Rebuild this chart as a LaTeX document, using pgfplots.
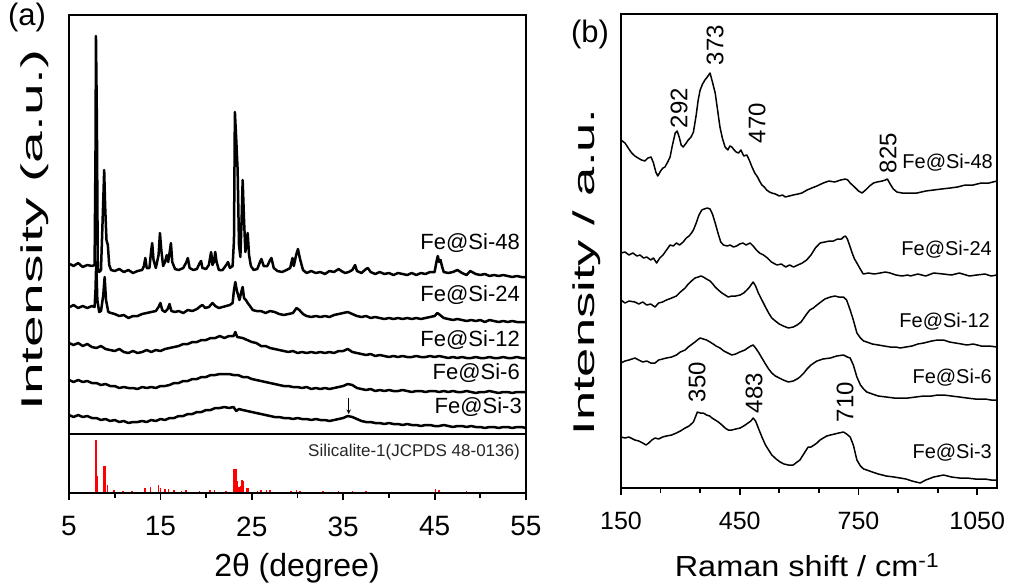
\documentclass[border=0pt]{standalone}
\usepackage{fontspec}
\setmainfont{Liberation Sans}
\usepackage{pgfplots}
\pgfplotsset{compat=1.18}
\usepackage{graphicx}
\begin{document}
\begin{tikzpicture}
\path[use as bounding box] (0pt,0pt) rectangle (1011pt,-585pt);
% ---------------- (a) main XRD ----------------
\begin{axis}[at={(69pt,-434pt)}, anchor=south west, scale only axis,
  width=457pt, height=419pt, xmin=5, xmax=55, ymin=15, ymax=434, y dir=reverse,
  xtick=\empty, ytick=\empty, axis line style={line width=1.8pt},
  every axis plot post/.append style={black, line width=2.5pt, line join=round, mark=none}]
% Fe@Si-48
\addplot coordinates {(5.1,264)(5.5,266)(6.0,263)(6.5,267)(7.0,265)(7.5,266)(7.8,265)(7.9,150)(7.95,36)(8.05,120)(8.15,268)(8.3,272)(8.5,270)(8.75,200)(8.85,170)(8.95,205)(9.1,240)(9.25,245)(9.4,265)(9.6,270)(10.0,271)(10.5,269)(11.0,272)(11.5,270)(12.0,273)(12.5,271)(13.0,270)(13.2,266)(13.35,258)(13.5,268)(13.8,268)(14.0,250)(14.1,243)(14.25,260)(14.5,268)(14.8,255)(14.95,233)(15.1,250)(15.3,266)(15.5,262)(15.7,255)(15.85,262)(16.05,250)(16.15,243)(16.3,262)(16.6,269)(17.0,270)(17.5,268)(17.85,262)(18.0,258)(18.2,268)(18.6,270)(19.0,269)(19.3,263)(19.45,261)(19.6,268)(20.0,269)(20.3,265)(20.55,252)(20.7,265)(20.85,262)(21.0,252)(21.15,262)(21.4,270)(21.8,270)(22.2,265)(22.4,262)(22.6,268)(22.9,266)(23.05,240)(23.15,112)(23.3,140)(23.45,170)(23.6,245)(23.75,257)(23.9,215)(24.0,180)(24.15,220)(24.3,252)(24.45,240)(24.55,233)(24.7,255)(24.9,266)(25.2,270)(25.6,269)(25.9,262)(26.05,259)(26.3,266)(26.7,266)(27.0,260)(27.15,258)(27.4,268)(27.8,271)(28.3,272)(28.8,270)(29.2,268)(29.45,258)(29.6,266)(29.85,255)(30.05,249)(30.25,258)(30.6,270)(31.0,273)(31.5,271)(32.0,273)(32.5,272)(33.0,274)(33.5,271)(34.0,272)(34.5,269)(34.8,271)(35.2,273)(35.6,272)(36.0,270)(36.3,265)(36.5,271)(37.0,273)(37.5,269)(37.7,268)(38.0,272)(38.5,274)(39.0,272)(39.5,274)(40.0,273)(40.5,275)(41.0,273)(41.5,274)(42.0,275)(42.5,273)(43.0,275)(43.5,273)(44.0,274)(44.5,272)(45.0,272)(45.2,262)(45.35,256)(45.5,262)(45.65,260)(45.8,266)(46.0,272)(46.5,273)(47.0,272)(47.5,270)(48.0,273)(48.5,275)(48.9,271)(49.5,274)(50.0,275)(50.5,274)(51.0,276)(51.5,275)(52.0,276)(52.5,275)(53.0,276)(53.5,277)(54.0,276)(54.5,277)(55.0,277)};
% Fe@Si-24
\addplot coordinates {(5.1,307)(5.5,305)(6.0,308)(6.5,306)(7.0,308)(7.5,306)(7.8,307)(7.9,290)(7.98,262)(8.1,300)(8.3,312)(8.5,311)(8.75,295)(8.9,277)(9.05,300)(9.3,312)(9.6,313)(10.0,314)(10.5,316)(11.0,315)(11.5,318)(12.0,316)(12.5,316)(13.0,314)(13.5,313)(14.0,312)(14.5,311)(14.8,307)(15.0,303)(15.2,310)(15.5,312)(15.8,309)(16.0,304)(16.2,311)(16.6,312)(17.0,311)(17.5,313)(18.0,310)(18.5,311)(19.0,309)(19.4,306)(19.6,305)(19.9,308)(20.3,307)(20.7,303)(21.0,306)(21.4,308)(21.8,307)(22.2,306)(22.6,305)(22.9,303)(23.05,290)(23.2,282)(23.35,290)(23.5,295)(23.65,300)(23.85,292)(24.0,287)(24.15,298)(24.35,300)(24.55,303)(24.8,306)(25.1,310)(25.5,311)(26.0,311)(26.5,313)(27.0,311)(27.5,312)(28.0,314)(28.5,315)(29.0,314)(29.5,313)(29.9,308)(30.2,310)(30.6,314)(31.0,316)(31.5,317)(32.0,316)(32.5,317)(33.0,316)(33.5,317)(34.0,315)(34.5,314)(35.0,313)(35.5,312)(36.0,314)(36.5,316)(37.0,317)(37.5,316)(38.0,318)(38.5,317)(39.0,318)(39.5,319)(40.0,318)(40.5,319)(41.0,318)(41.5,319)(42.0,318)(42.5,319)(43.0,318)(43.5,319)(44.0,318)(44.5,317)(45.0,316)(45.3,313)(45.6,315)(46.0,318)(46.5,319)(47.0,320)(47.5,319)(48.0,320)(48.5,321)(49.0,320)(49.5,321)(50.0,320)(50.5,322)(51.0,320)(51.5,321)(52.0,322)(52.5,321)(53.0,322)(53.5,321)(54.0,322)(54.5,322)(55.0,322)};
% Fe@Si-12
\addplot coordinates {(5,343)(5.5,345)(6,343)(6.5,346)(7,344)(7.5,347)(8,348)(8.5,346)(9,349)(9.5,350)(10,351)(10.5,349)(11,352)(11.5,353)(12,351)(12.5,353)(13,352)(13.5,350)(14,352)(14.5,350)(15,351)(15.5,349)(16,348)(16.5,347)(17,346)(17.5,344)(18,344)(18.5,342)(19,342)(19.5,340)(20,340)(20.5,338)(21,338)(21.5,336)(22,338)(22.5,336)(23,336)(23.2,332)(23.4,337)(24,338)(24.5,340)(25,342)(25.5,343)(26,346)(26.5,346)(27,348)(27.5,349)(28,350)(28.5,351)(29,352)(29.5,351)(30,353)(30.5,352)(31,353)(31.5,352)(32,353)(32.5,352)(33,353)(33.5,352)(34,353)(34.5,351)(35,351)(35.5,349)(36,352)(36.5,353)(37,354)(37.5,355)(38,354)(38.5,356)(39,355)(39.5,356)(40,357)(40.5,356)(41,357)(41.5,356)(42,357)(42.5,357)(43,356)(43.5,357)(44,357)(44.5,356)(45,357)(45.5,356)(46,357)(46.5,358)(47,357)(47.5,358)(48,357)(48.5,358)(49,358)(49.5,357)(50,358)(50.5,358)(51,357)(51.5,358)(52,358)(52.5,357)(53,358)(53.5,358)(54,357)(54.5,358)(55,358)};
% Fe@Si-6
\addplot coordinates {(5,380)(5.5,382)(6,380)(6.5,382)(7,381)(7.5,383)(8,383)(8.5,385)(9,384)(9.5,386)(10,386)(10.5,388)(11,387)(11.5,388)(12,388)(12.5,389)(13,387)(13.5,388)(14,387)(14.5,388)(15,386)(15.5,386)(16,385)(16.5,383)(17,383)(17.5,381)(18,381)(18.5,379)(19,379)(19.5,377)(20,377)(20.5,375)(21,375)(21.5,374)(22,374)(22.5,374)(23,375)(23.5,375)(24,377)(24.5,377)(25,379)(25.5,380)(26,381)(26.5,382)(27,383)(27.5,384)(28,385)(28.5,386)(29,386)(29.5,387)(30,387)(30.5,388)(31,387)(31.5,389)(32,388)(32.5,389)(33,388)(33.5,389)(34,388)(34.5,387)(35,386)(35.5,384)(36,385)(36.5,388)(37,389)(37.5,390)(38,389)(38.5,391)(39,390)(39.5,391)(40,390)(40.5,391)(41,391)(41.5,390)(42,391)(42.5,392)(43,391)(43.5,391)(44,392)(44.5,391)(45,391)(45.5,392)(46,391)(46.5,392)(47,391)(47.5,392)(48,392)(48.5,391)(49,392)(49.5,393)(50,392)(50.5,392)(51,391)(51.5,392)(52,393)(52.5,392)(53,392)(53.5,393)(54,392)(54.5,392)(55,392)};
% Fe@Si-3
\addplot coordinates {(5,415)(5.5,417)(6,415)(6.5,417)(7,416)(7.5,418)(8,418)(8.5,420)(9,419)(9.5,421)(10,420)(10.5,422)(11,421)(11.5,423)(12,422)(12.5,422)(13,421)(13.5,422)(14,420)(14.5,421)(15,419)(15.5,420)(16,418)(16.5,418)(17,416)(17.5,416)(18,414)(18.5,414)(19,412)(19.5,412)(20,410)(20.5,410)(21,408)(21.5,408)(22,407)(22.5,408)(23,407)(23.3,411)(23.6,409)(24,410)(24.5,411)(25,412)(25.5,413)(26,414)(26.5,415)(27,416)(27.5,417)(28,417)(28.5,418)(29,418)(29.5,419)(30,418)(30.5,419)(31,419)(31.5,420)(32,419)(32.5,420)(33,420)(33.5,421)(34,420)(34.5,419)(35,418)(35.5,416)(36,417)(36.5,419)(37,421)(37.5,422)(38,422)(38.5,423)(39,423)(39.5,424)(40,423)(40.5,424)(41,424)(41.5,425)(42,424)(42.5,425)(43,425)(43.5,426)(44,425)(44.5,425)(45,426)(45.5,426)(46,425)(46.5,426)(47,427)(47.5,426)(48,426)(48.5,427)(49,426)(49.5,427)(50,427)(50.5,428)(51,427)(51.5,427)(52,428)(52.5,427)(53,427)(53.5,428)(54,427)(54.5,427)(55,428)};
\draw[->, line width=1pt, >=stealth] (axis cs:35.6,398) -- (axis cs:35.6,414);
\end{axis}
% ---------------- (a) reference pattern ----------------
\begin{axis}[at={(69pt,-493pt)}, anchor=south west, scale only axis,
  width=457pt, height=59pt, xmin=5, xmax=55, ymin=-1, ymax=58,
  xtick={5,15,25,35,45,55}, minor xtick={10,20,30,40,50}, ytick=\empty,
  tick align=outside, xtick pos=bottom, major tick length=7pt, minor tick length=4.5pt,
  every tick/.style={black, line width=1.8pt}, axis line style={line width=1.8pt},
  xticklabel style={font=\fontsize{28}{28}\selectfont, yshift=-13pt},
  /pgf/number format/assume math mode=true]
\addplot[ycomb, red, line width=1.5pt, mark=none] coordinates {(7.95,52)(8.1,16)(8.8,26)(8.95,26)(9.2,7)(9.95,2)(10.9,1)(11.9,1)(13.3,4)(13.9,5)(14.8,7)(15.0,4)(15.5,3)(15.9,3)(16.5,2)(17.3,1)(17.8,2)(19.3,1)(20.4,2)(20.9,2)(22.2,1)(23.05,23)(23.25,23)(23.4,11)(23.6,5)(23.75,6)(23.95,12)(24.1,11)(24.4,4)(24.6,4)(25.6,1)(26.0,2)(26.6,2)(27.0,2)(29.3,1)(29.9,2)(30.3,1)(32.8,1)(34.5,1)(36.0,1)(37.5,1)(45.1,3)(45.5,2)(48.5,1)};
\end{axis}
% ---------------- (b) Raman ----------------
\begin{axis}[at={(621pt,-488pt)}, anchor=south west, scale only axis,
  width=376pt, height=474pt, xmin=150, xmax=1100, ymin=14, ymax=488, y dir=reverse,
  xtick={150,450,750,1050}, minor xtick={250,350,550,650,850,950}, ytick=\empty,
  tick align=outside, xtick pos=bottom, major tick length=7pt, minor tick length=4.5pt,
  every tick/.style={black, line width=1.8pt}, axis line style={line width=1.8pt},
  xticklabel style={font=\fontsize{25}{25}\selectfont, yshift=-13.5pt},
  /pgf/number format/assume math mode=true, /pgf/number format/1000 sep={},
  every axis plot post/.append style={black, line width=1.5pt, line join=round, mark=none}]
% Fe@Si-48
\addplot coordinates {(150,140)(160,143)(170,149)(177,153)(185,156)(193,158)(202,160)(210,161)(218,158)(226,157)(232,163)(238,172)(243,176)(250,171)(256,168)(261,167)(268,162)(274,157)(280,145)(287,133)(292,131)(297,137)(302,145)(307,147)(313,144)(320,140)(327,137)(333,132)(340,115)(345,100)(350,90)(356,84)(362,80)(368,77)(375,73)(381,82)(388,93)(394,110)(400,127)(406,138)(413,147)(420,150)(425,146)(430,147)(436,150)(441,152)(447,153)(453,150)(460,156)(468,155)(474,160)(481,167)(488,173)(495,177)(500,181)(506,185)(512,187)(518,190)(525,192)(531,193)(540,194)(550,196)(558,195)(565,197)(575,196)(585,195)(597,194)(607,193)(620,190)(632,188)(645,186)(661,183)(675,181)(690,182)(705,180)(717,179)(723,180)(729,183)(740,187)(750,191)(759,193)(768,190)(778,186)(788,183)(797,182)(810,181)(818,180)(823,179)(830,184)(838,189)(847,192)(860,193)(875,193)(898,193)(920,191)(940,190)(960,189)(982,188)(1000,187)(1020,185)(1040,185)(1060,183)(1080,183)(1090,182)(1100,181)};
% Fe@Si-24
\addplot coordinates {(150,253)(160,252)(170,255)(180,253)(190,256)(198,255)(207,258)(215,257)(225,260)(232,258)(240,263)(248,258)(256,255)(265,250)(274,245)(282,246)(290,243)(298,245)(307,242)(315,238)(322,236)(328,233)(333,230)(340,223)(347,215)(354,210)(360,209)(368,208)(375,209)(381,214)(388,223)(395,233)(402,242)(409,245)(418,246)(426,245)(434,247)(442,246)(450,244)(458,243)(466,245)(476,243)(484,246)(492,250)(500,253)(510,255)(520,258)(530,262)(544,265)(555,264)(566,267)(576,265)(586,267)(597,265)(608,263)(619,260)(630,255)(641,248)(653,243)(665,242)(677,241)(687,241)(697,239)(707,239)(712,237)(717,236)(722,239)(729,247)(735,254)(740,259)(746,263)(753,268)(762,274)(775,273)(790,274)(805,273)(818,272)(830,273)(845,275)(860,276)(875,275)(881,276)(900,274)(920,276)(940,273)(964,274)(985,275)(1005,273)(1030,276)(1049,275)(1070,274)(1085,276)(1100,275)};
% Fe@Si-12
\addplot coordinates {(150,300)(160,303)(170,301)(185,302)(195,304)(205,302)(215,305)(225,304)(236,307)(245,303)(255,302)(265,300)(278,298)(290,296)(300,292)(312,288)(320,284)(328,281)(337,278)(345,277)(352,276)(358,277)(366,279)(375,281)(382,284)(388,287)(396,290)(405,293)(413,295)(421,297)(430,296)(440,296)(451,295)(460,293)(468,290)(475,287)(480,284)(484,282)(490,286)(497,293)(506,300)(515,307)(523,313)(531,318)(540,321)(550,324)(560,326)(573,328)(585,327)(595,325)(605,322)(612,318)(619,314)(627,310)(636,308)(645,305)(655,302)(665,299)(679,297)(690,296)(700,297)(712,297)(720,300)(729,310)(737,320)(746,333)(755,338)(763,341)(771,342)(785,344)(800,345)(815,346)(830,347)(845,347)(855,348)(870,347)(885,346)(900,344)(915,343)(935,341)(950,340)(965,340)(980,342)(995,343)(1010,344)(1024,345)(1040,344)(1060,346)(1080,346)(1100,347)};
% Fe@Si-6
\addplot coordinates {(150,363)(160,361)(170,360)(185,358)(195,360)(205,362)(215,361)(225,363)(236,363)(245,360)(255,359)(265,358)(278,357)(290,355)(300,352)(312,350)(320,347)(330,344)(337,342)(343,340)(350,338)(358,339)(366,340)(375,342)(383,344)(390,346)(400,348)(410,351)(420,353)(430,355)(440,354)(450,352)(463,350)(470,348)(478,346)(484,345)(490,348)(497,352)(506,358)(515,364)(523,369)(531,373)(540,376)(550,378)(560,380)(573,382)(585,381)(595,379)(602,377)(612,373)(620,369)(630,365)(645,361)(660,359)(679,358)(695,356)(712,355)(722,357)(729,358)(737,365)(746,377)(755,385)(763,389)(771,392)(785,394)(800,396)(820,397)(840,398)(855,398)(875,398)(895,397)(915,396)(935,396)(950,395)(965,395)(985,396)(1005,397)(1024,398)(1045,399)(1070,399)(1085,400)(1100,400)};
% Fe@Si-3
\addplot coordinates {(150,437)(160,438)(170,437)(185,440)(195,441)(205,443)(213,445)(220,443)(228,440)(236,438)(245,439)(255,437)(265,436)(278,435)(290,433)(300,431)(312,428)(322,426)(333,422)(338,417)(343,412)(350,413)(358,413)(366,415)(374,416)(380,418)(388,420)(396,422)(405,425)(413,428)(421,430)(430,430)(440,429)(451,428)(460,426)(471,423)(478,421)(484,418)(490,421)(497,428)(506,437)(515,445)(523,450)(531,455)(542,459)(552,462)(562,464)(573,465)(585,465)(595,462)(602,460)(610,455)(618,450)(623,447)(630,447)(638,445)(645,443)(653,440)(661,438)(670,436)(679,435)(690,434)(700,433)(712,432)(720,434)(729,437)(737,445)(746,460)(755,466)(763,469)(771,470)(785,472)(800,474)(820,476)(840,477)(855,478)(870,479)(885,481)(906,483)(920,480)(940,477)(965,475)(985,477)(1005,478)(1024,478)(1045,479)(1070,479)(1085,480)(1100,480)};
\end{axis}
% ---------------- texts ----------------
\begin{scope}[every node/.style={inner sep=0pt}]
\node[font=\fontsize{31}{31}\selectfont] at (27pt,-17pt) {(a)};
\node[font=\fontsize{31}{31}\selectfont] at (590pt,-34pt) {(b)};
\node[rotate=90, font=\fontsize{30}{30}\selectfont] at (35pt,-230pt) {\scalebox{1.9}[1]{Intensity (a.u.)}};
\node[rotate=90, font=\fontsize{30}{30}\selectfont] at (587pt,-272pt) {\scalebox{1.75}[1]{Intensity / a.u.}};
\node[font=\fontsize{32}{32}\selectfont] at (297pt,-568pt) {2θ (degree)};
\node[font=\fontsize{29}{29}\selectfont] at (807pt,-565pt) {\scalebox{1.12}[1]{Raman shift / cm\textsuperscript{-1}}};
% (a) labels
\node[anchor=east, font=\fontsize{22}{22}\selectfont] at (520pt,-243pt) {Fe@Si-48};
\node[anchor=east, font=\fontsize{22}{22}\selectfont] at (520pt,-295pt) {Fe@Si-24};
\node[anchor=east, font=\fontsize{22}{22}\selectfont] at (520pt,-340pt) {Fe@Si-12};
\node[anchor=east, font=\fontsize{22}{22}\selectfont] at (520pt,-373pt) {Fe@Si-6};
\node[anchor=east, font=\fontsize{22}{22}\selectfont] at (522pt,-407pt) {Fe@Si-3};
\node[anchor=east, font=\fontsize{17}{17}\selectfont, text=black!85] at (520pt,-452pt) {Silicalite-1(JCPDS 48-0136)};
% (b) labels
\node[anchor=east, font=\fontsize{20}{20}\selectfont] at (993pt,-163pt) {Fe@Si-48};
\node[anchor=east, font=\fontsize{20}{20}\selectfont] at (992pt,-250pt) {Fe@Si-24};
\node[anchor=east, font=\fontsize{20}{20}\selectfont] at (990pt,-322pt) {Fe@Si-12};
\node[anchor=east, font=\fontsize{20}{20}\selectfont] at (992pt,-378pt) {Fe@Si-6};
\node[anchor=east, font=\fontsize{20}{20}\selectfont] at (992pt,-453pt) {Fe@Si-3};
% peak labels
\node[rotate=90, font=\fontsize{24}{24}\selectfont] at (679pt,-108pt) {292};
\node[rotate=90, font=\fontsize{24}{24}\selectfont] at (715pt,-45pt) {373};
\node[rotate=90, font=\fontsize{24}{24}\selectfont] at (757pt,-123pt) {470};
\node[rotate=90, font=\fontsize{24}{24}\selectfont] at (888pt,-153pt) {825};
\node[rotate=90, font=\fontsize{24}{24}\selectfont] at (697pt,-382pt) {350};
\node[rotate=90, font=\fontsize{24}{24}\selectfont] at (754pt,-393pt) {483};
\node[rotate=90, font=\fontsize{24}{24}\selectfont] at (845pt,-402pt) {710};
\end{scope}
\end{tikzpicture}
\end{document}
